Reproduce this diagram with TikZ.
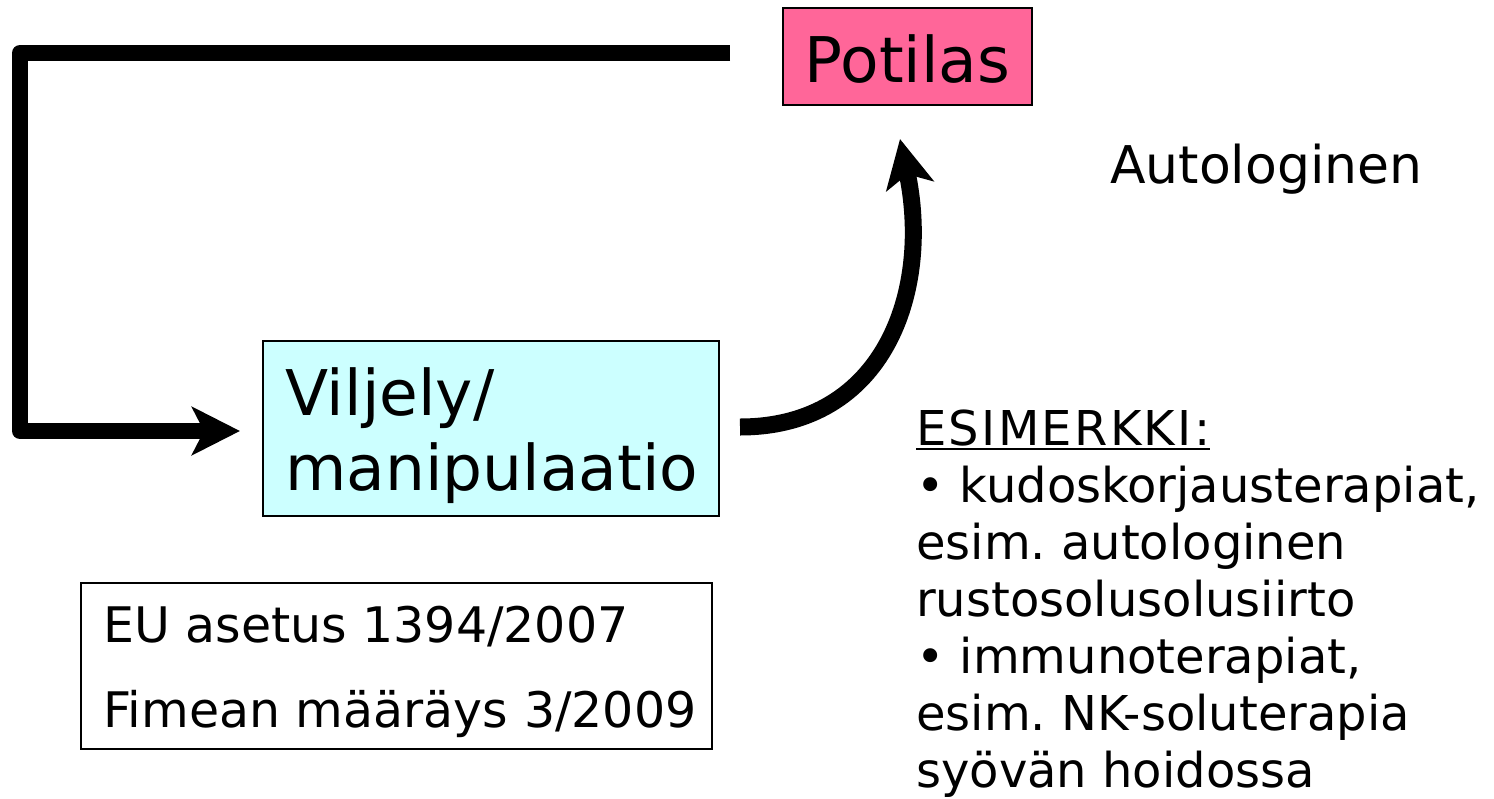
\documentclass[tikz,border=0pt]{standalone}
\usepackage{fontspec}
\setmainfont{DejaVu Sans}
\usetikzlibrary{arrows.meta}
\definecolor{potpink}{RGB}{255,102,153}
\definecolor{vilcyan}{RGB}{204,255,255}
\frenchspacing
\begin{document}
\begin{tikzpicture}[x=1pt,y=-1pt,
  box/.style={draw=black, line width=1.5pt, inner sep=0pt, anchor=north west},
  txt/.style={inner sep=0pt, anchor=base west},
  flow/.style={line width=16pt, line join=round,
    -{Stealth[length=48pt,width=48pt,inset=12pt]}},
  bigfont/.style={font=\fontsize{63}{63}\selectfont},
  midfont/.style={font=\fontsize{52}{52}\selectfont},
  listfont/.style={font=\fontsize{48}{48}\selectfont},
  smallfont/.style={font=\fontsize{49}{49}\selectfont}
]
\fill[white] (0,0) rectangle (1494,798);
\useasboundingbox (0,0) rectangle (1494,798);

% patient box
\node[draw=black, line width=1.5pt, fill=potpink, inner sep=0pt,
      minimum width=249pt, minimum height=97pt,
      text height=51pt, text depth=0pt, bigfont] (pot) at (907.5,56.5) {Potilas};

% culture / manipulation box
\node[box, fill=vilcyan, minimum width=456pt, minimum height=175pt] (vil) at (262,340) {};
\node[txt, bigfont] (vilA) at (285,415) {Viljely/};
\node[txt, bigfont] (vilB) at (285,490) {manipulaatio};

% regulation box
\node[box, fill=white, minimum width=631pt, minimum height=166pt] (reg) at (80,582) {};
\node[txt, smallfont] (regA) at (103,642) {EU asetus 1394/2007};
\node[txt, smallfont] (regB) at (103,727) {Fimean määräys 3/2009};

% heading on the right
\node[txt, midfont] (auto) at (1110,183) {Autologinen};

% examples list
\node[txt, listfont] (ex0) at (916,445) {\addfontfeature{LetterSpace=4.8}ESIMERKKI:};
\draw[line width=2.5pt] ([yshift=-4pt]ex0.base west) -- ([yshift=-4pt]ex0.base east);
\node[txt, listfont] (ex1) at (916,502) {• kudoskorjausterapiat,};
\node[txt, listfont] (ex2) at (916,559) {esim. autologinen};
\node[txt, listfont] (ex3) at (916,616) {rustosolusolusiirto};
\node[txt, listfont] (ex4) at (916,673) {• immunoterapiat,};
\node[txt, listfont] (ex5) at (916,730) {esim. NK-soluterapia};
\node[txt, listfont] (ex6) at (916,787) {syövän hoidossa};

% feedback arrow from patient back to culture
\coordinate (fbStart) at (730,53);
\coordinate (fbCorner) at (20,431);
\coordinate (fbEnd) at (240,431);
\draw[flow] (fbStart) -| (fbCorner) -- (fbEnd);

% curved arrow from culture up to patient
\coordinate (cuStart) at (740,427);
\coordinate (cuEnd) at (900,139);
\draw[flow, line width=17pt] (cuStart) .. controls (885,427) and (932,290) .. (cuEnd);
\end{tikzpicture}
\end{document}
